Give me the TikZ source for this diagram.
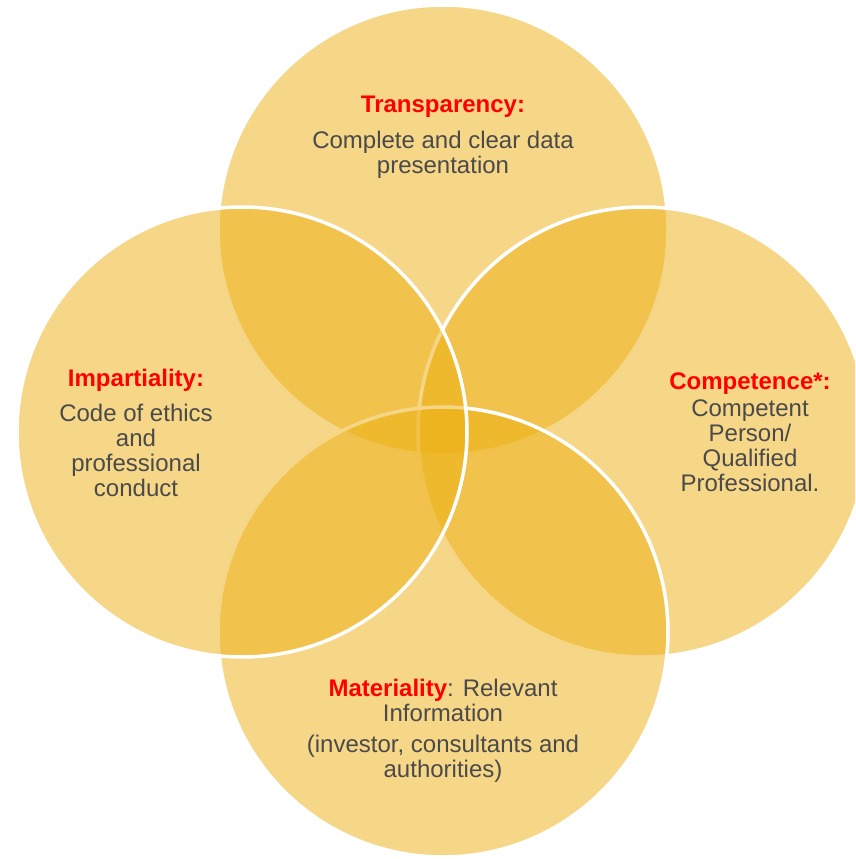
\documentclass[tikz,border=0pt]{standalone}
\usepackage{fontspec}
\setmainfont{Liberation Sans}
\usepackage{xcolor}
\usepackage{tikz}
\usetikzlibrary{positioning,calc}
\definecolor{RingGold}{RGB}{237,175,17}
\definecolor{TitleRed}{HTML}{FF0000}
\definecolor{BodyGrey}{HTML}{4A4A4A}
\tikzset{
  ring/.style={circle,minimum size=450pt,inner sep=0pt,
               fill=RingGold,fill opacity=0.5,draw=white,line width=3.5pt},
  ttl/.style={font=\fontsize{24}{25}\selectfont\bfseries,text=TitleRed,
              align=center,inner sep=0pt},
  txt/.style={font=\fontsize{24}{25}\selectfont,text=BodyGrey,
              align=center,inner sep=0pt}
}
\begin{document}
\begin{tikzpicture}[x=1pt,y=-1pt]
  \useasboundingbox (0,0) rectangle (855,859);
  \clip (0,0) rectangle (855,859);
  % four overlapping rings
  \node[ring] (top) at (443,230) {};
  \node[ring] (right) at (643,432) {};
  \node[ring] (bottom) at (443,632) {};
  \node[ring] (left) at (242,432) {};

  % labels
  \node[ttl] (tTop) at (443,107) {Transparency:};
  \node[txt] (bTop) at (443,155) {Complete and clear data\\presentation};

  \node[ttl] (tLeft) at (136,380) {Impartiality:};
  \node[txt] (bLeft) at (136,450) {Code of ethics\\and\\professional\\conduct};

  \node[ttl] (tRight) at (750,384) {Competence*:};
  \node[txt] (bRight) at (750,446) {Competent\\Person/\\Qualified\\Professional.};

  \node[txt] (tBottom) at (443,700) {\textcolor{TitleRed}{\bfseries Materiality}: Relevant\\Information};
  \node[txt] (bBottom) at (443,759) {(investor, consultants and\\authorities)};
\end{tikzpicture}
\end{document}
